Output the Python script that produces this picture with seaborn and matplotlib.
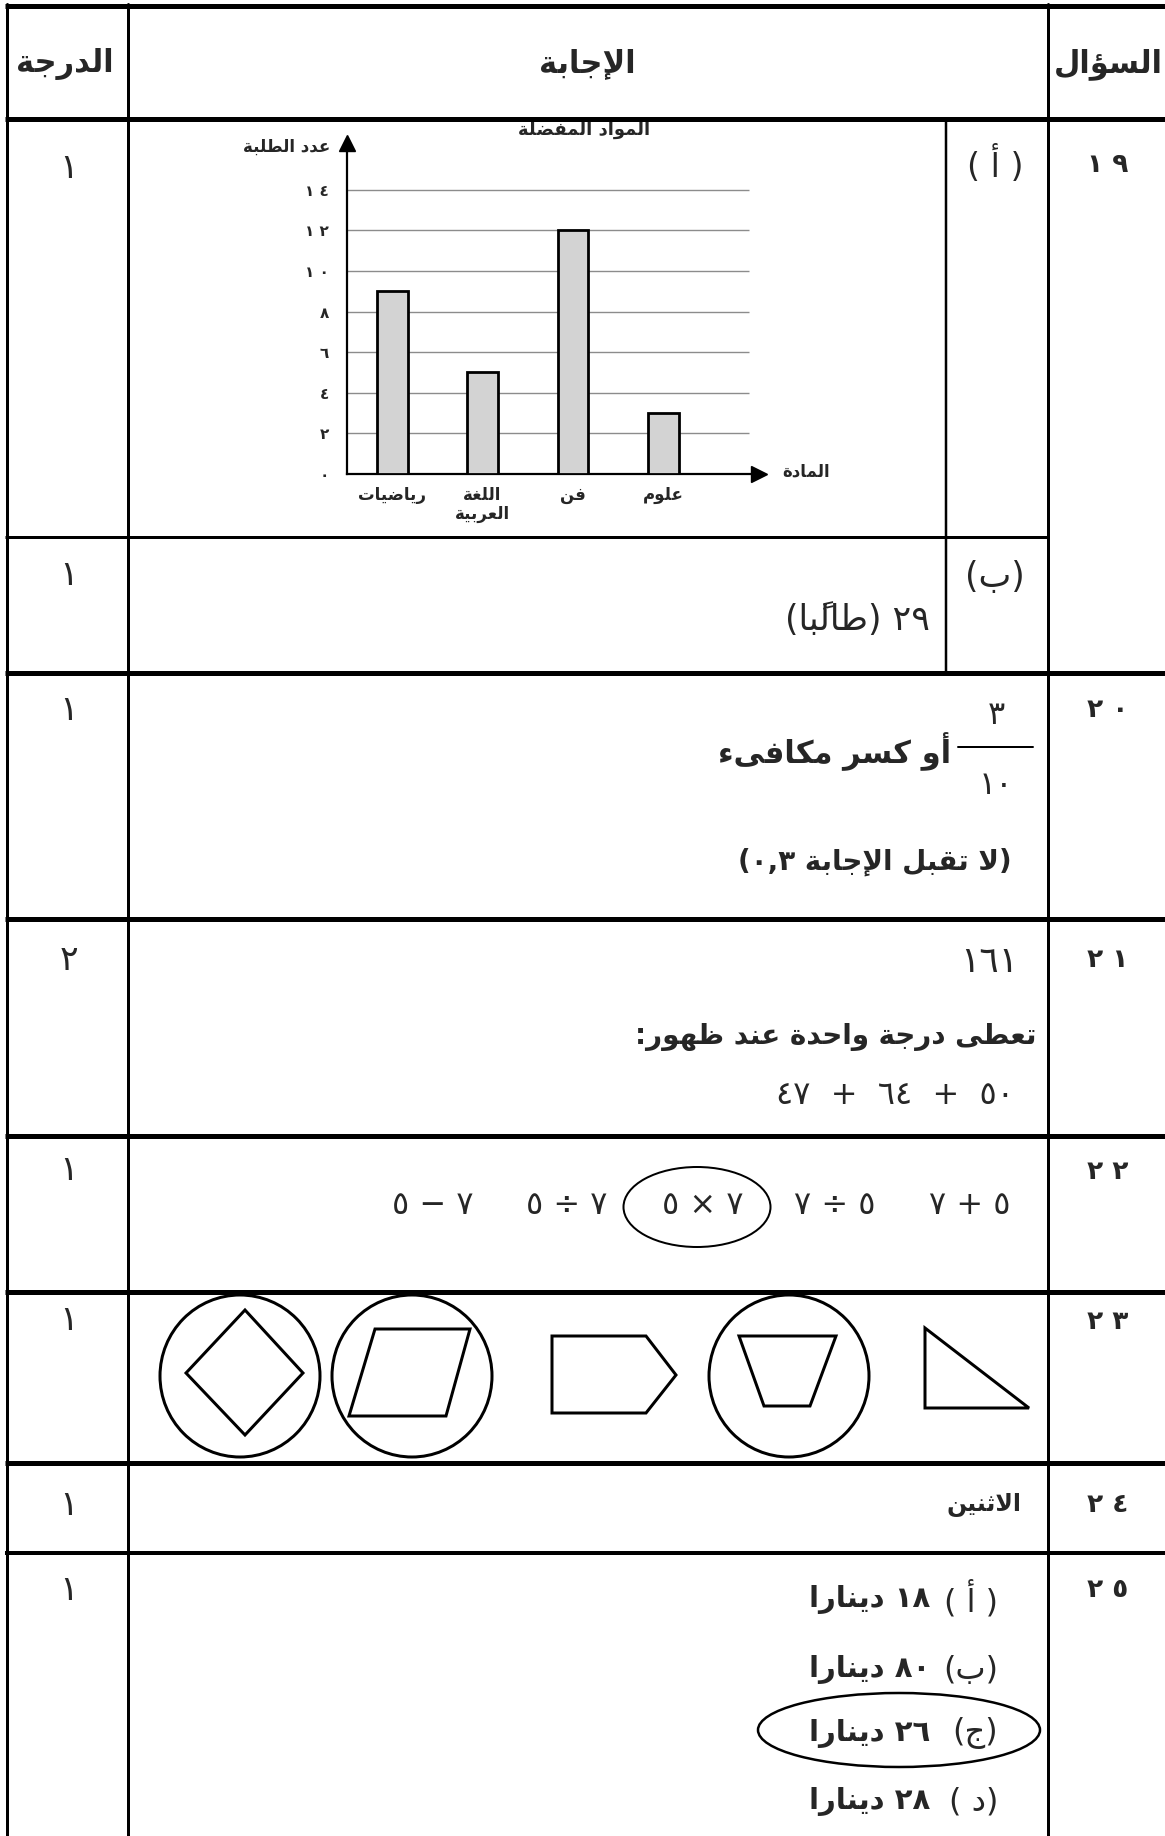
import matplotlib
matplotlib.use("Agg")
import matplotlib.pyplot as plt
from matplotlib.patches import Ellipse, Polygon
import seaborn as sns

# ---- data ----
subjects = ["رياضيات", "اللغة\nالعربية", "فن", "علوم"]
students = [9, 5, 12, 3]
y_ticks = [0, 2, 4, 6, 8, 10, 12, 14]
chart_title = "المواد المفضلة"
y_title = "عدد الطلبة"
x_title = "المادة"

header = ["الدرجة", "الإجابة", "السؤال"]
question_nums = [19, 20, 21, 22, 23, 24, 25]
marks = [1, 1, 1, 2, 1, 1, 1, 1]          # 19a, 19b, 20 ... 25

answer_19b = "٢٩ (طالبًا)"
frac_num, frac_den = 3, 10
answer_20 = "أو كسر مكافىء"
note_20 = "(لا تقبل الإجابة ٠,٣)"
answer_21 = 161
note_21 = "تعطى درجة واحدة عند ظهور:"
sum_21 = [50, 64, 47]
exprs_22 = ["٥ + ٧", "٥ ÷ ٧", "٧ × ٥", "٧ ÷ ٥", "٧ − ٥"]   # read right to left
pick_22 = 2
pick_23 = [True, True, False, True, False]                 # left to right
answer_24 = "الاثنين"
option_labels = ["( أ )", "(ب)", "(ج)", "(د )"]
option_values = [18, 80, 26, 28]
option_unit = "دينارا"
pick_25 = 2

# ---- minimal arabic shaping + rtl ordering (mpl has no bidi) ----
FORMS = {"ء": (0xFE80, 1), "آ": (0xFE81, 2), "أ": (0xFE83, 2), "ؤ": (0xFE85, 2),
         "إ": (0xFE87, 2), "ئ": (0xFE89, 4), "ا": (0xFE8D, 2), "ب": (0xFE8F, 4),
         "ة": (0xFE93, 2), "ت": (0xFE95, 4), "ث": (0xFE99, 4), "ج": (0xFE9D, 4),
         "ح": (0xFEA1, 4), "خ": (0xFEA5, 4), "د": (0xFEA9, 2), "ذ": (0xFEAB, 2),
         "ر": (0xFEAD, 2), "ز": (0xFEAF, 2), "س": (0xFEB1, 4), "ش": (0xFEB5, 4),
         "ص": (0xFEB9, 4), "ض": (0xFEBD, 4), "ط": (0xFEC1, 4), "ظ": (0xFEC5, 4),
         "ع": (0xFEC9, 4), "غ": (0xFECD, 4), "ف": (0xFED1, 4), "ق": (0xFED5, 4),
         "ك": (0xFED9, 4), "ل": (0xFEDD, 4), "م": (0xFEE1, 4), "ن": (0xFEE5, 4),
         "ه": (0xFEE9, 4), "و": (0xFEED, 2), "ى": (0xFEEF, 2), "ي": (0xFEF1, 4)}
LAM_ALEF = {"آ": 0xFEF5, "أ": 0xFEF7, "إ": 0xFEF9, "ا": 0xFEFB}
MARKS = "\u064B\u064C\u064D\u064E\u064F\u0650\u0651\u0652"
DIGITS = "0123456789٠١٢٣٤٥٦٧٨٩"
MIRROR = {"(": ")", ")": "("}
AR = str.maketrans("0123456789", "٠١٢٣٤٥٦٧٨٩")


def ar_num(n):
    return str(n).translate(AR)


def shape_units(text):
    units = []
    i = 0
    while i < len(text):
        c = text[i]
        if c == "ل" and i + 1 < len(text) and text[i + 1] in LAM_ALEF:
            units.append(["LA" + text[i + 1], ""])
            i += 2
            continue
        if c in MARKS and units:
            units[-1][1] += c
        else:
            units.append([c, ""])
        i += 1
    out = []
    for k, (u, m) in enumerate(units):
        if u.startswith("LA"):
            base, n = LAM_ALEF[u[2]], 2
        elif u in FORMS:
            base, n = FORMS[u]
        else:
            out.append(u + m)
            continue
        prev = units[k - 1][0] if k > 0 else ""
        nxt = units[k + 1][0] if k + 1 < len(units) else ""
        jp = prev in FORMS and FORMS[prev][1] == 4
        jn = n == 4 and (nxt in FORMS or nxt.startswith("LA"))
        if n == 1:
            idx = 0
        elif jp and jn:
            idx = 3
        elif jp:
            idx = 1
        elif jn:
            idx = 2
        else:
            idx = 0
        out.append(chr(base + idx) + m)
    return out


def rtl(text):
    lines = []
    for line in text.split("\n"):
        toks = shape_units(line)
        runs = []
        for j, t in enumerate(toks):
            is_d = t in DIGITS
            sep = t == "," and runs and runs[-1][0] and j + 1 < len(toks) and toks[j + 1] in DIGITS
            if (is_d or sep) and runs and runs[-1][0]:
                runs[-1][1] += t
            else:
                runs.append([is_d, t])
        lines.append("".join(r[1] if r[0] else MIRROR.get(r[1], r[1]) for r in runs[::-1]))
    return "\n".join(lines)


# ---- figure ----
sns.set_style("white")
plt.rcParams["font.family"] = ["DejaVu Sans"]
W, H = 1165, 1836
fig = plt.figure(figsize=(W / 100, H / 100), dpi=100)

base = fig.add_axes([0, 0, 1, 1])
base.set_xlim(0, W)
base.set_ylim(H, 0)
base.axis("off")
base.set_zorder(3)
base.patch.set_alpha(0)

PX = 0.72  # px -> pt
X_MARK, X_ANS, X_Q = 69, 587, 1108

# table rules
for y, lw, x1 in [(6, 5, W), (119, 5, W), (537, 3, 1048), (673, 5, W), (919, 5, W),
                  (1136, 5, W), (1292, 5, W), (1463, 5, W), (1553, 4, W)]:
    base.plot([5, x1], [y, y], color="black", lw=lw * PX, solid_capstyle="butt")
for x in [7, 128, 1048]:
    base.plot([x, x], [4, H], color="black", lw=3 * PX)
base.plot([946, 946], [119, 673], color="black", lw=2.5 * PX)

# header
for txt, x in zip(header, [X_MARK - 4, X_ANS, X_Q]):
    base.text(x, 64, rtl(txt), ha="center", va="center", fontsize=22, fontweight="bold")

# marks column
for m, y in zip(marks, [168, 575, 710, 960, 1170, 1320, 1505, 1590]):
    base.text(X_MARK, y, ar_num(m), ha="center", va="center", fontsize=25)

# question numbers
for q, y in zip(question_nums, [165, 710, 960, 1172, 1322, 1505, 1590]):
    base.text(X_Q, y, " ".join(ar_num(q)), ha="center", va="center", fontsize=19,
              fontweight="bold")

# 19 (a) chart
base.text(995, 165, rtl("( أ )"), ha="center", va="center", fontsize=24)
ax = fig.add_axes([347 / W, 1 - 474 / H, 412 / W, 331 / H])
ax.set_zorder(1)
sns.barplot(x=list(range(len(subjects))), y=students, ax=ax, width=0.34, color="#d3d3d3",
            saturation=1, edgecolor="black", linewidth=2, zorder=3)
ax.set_xlim(-0.5, 4.06)
ax.set_ylim(0, 16.3)
ax.hlines(y_ticks[1:], -0.5, 3.95, color="#8c8c8c", lw=1, zorder=1)
for s in ["top", "right"]:
    ax.spines[s].set_visible(False)
for s in ["left", "bottom"]:
    ax.spines[s].set_color("black")
    ax.spines[s].set_linewidth(1.6)
ax.set_yticks(y_ticks)
ax.set_yticklabels([" ".join(ar_num(v)) for v in y_ticks], fontsize=11, fontweight="bold")
ax.set_xticks(range(len(subjects)))
ax.set_xticklabels([rtl(s) for s in subjects], fontsize=12, fontweight="bold", linespacing=1.0)
ax.set_xticks([-0.5, 0.5, 1.5, 2.5, 3.5], minor=True)
ax.tick_params(axis="x", which="major", length=0, pad=9)
ax.tick_params(axis="x", which="minor", length=6, width=1.5, direction="out", color="black")
ax.tick_params(axis="y", length=5, width=1.2, direction="out", color="black", pad=8)
ax.set_xlabel("")
ax.set_ylabel("")
ax.plot(1, 0, ">k", ms=11, transform=ax.get_yaxis_transform(), clip_on=False)
ax.plot(-0.5, 1, "^k", ms=11, transform=ax.get_xaxis_transform(), clip_on=False)
ax.text(-0.68, 16.1, rtl(y_title), ha="right", va="center", fontsize=12, fontweight="bold")
ax.text(4.58, 0.1, rtl(x_title), ha="center", va="center", fontsize=12, fontweight="bold")
ax.text(2.12, 16.95, rtl(chart_title), ha="center", va="center", fontsize=13,
        fontweight="bold", clip_on=False)

# 19 (b)
base.text(995, 577, rtl("(ب)"), ha="center", va="center", fontsize=25)
base.text(930, 620, rtl(answer_19b), ha="right", va="center", fontsize=25)

# 20
base.text(996, 716, ar_num(frac_num), ha="center", va="center", fontsize=23)
base.plot([958, 1033], [747, 747], color="black", lw=2 * PX)
base.text(996, 786, ar_num(frac_den), ha="center", va="center", fontsize=23)
base.text(951, 752, rtl(answer_20), ha="right", va="center", fontsize=22, fontweight="bold")
base.text(1012, 862, rtl(note_20), ha="right", va="center", fontsize=20, fontweight="bold")

# 21
base.text(1018, 962, ar_num(answer_21), ha="right", va="center", fontsize=26)
base.text(1036, 1037, rtl(note_21), ha="right", va="center", fontsize=20, fontweight="bold")
base.text(1014, 1095, rtl("  +  ".join(ar_num(v) for v in sum_21)), ha="right", va="center",
          fontsize=23)

# 22
for k, (e, x) in enumerate(zip(exprs_22, [970, 835, 703, 567, 433])):
    base.text(x, 1205, rtl(e), ha="center", va="center", fontsize=23)
    if k == pick_22:
        base.add_patch(Ellipse((697, 1207), 147, 80, fill=False, lw=2 * PX, ec="black"))

# 23 shapes (left to right)
shapes = [
    [(245, 1310), (303, 1373), (245, 1435), (186, 1373)],
    [(375, 1329), (470, 1329), (446, 1416), (349, 1416)],
    [(552, 1336), (646, 1336), (676, 1375), (646, 1413), (552, 1413)],
    [(739, 1336), (836, 1336), (810, 1406), (764, 1406)],
    [(925, 1328), (925, 1408), (1029, 1408)],
]
ring_x = [240, 412, None, 789, None]
for pts, picked, cx in zip(shapes, pick_23, ring_x):
    base.add_patch(Polygon(pts, closed=True, fill=False, lw=3 * PX, ec="black", joinstyle="miter"))
    if picked:
        base.add_patch(Ellipse((cx, 1376), 160, 162, fill=False, lw=3 * PX, ec="black"))

# 24
base.text(1022, 1505, rtl(answer_24), ha="right", va="center", fontsize=17, fontweight="bold")

# 25
for k, (lab, val, y) in enumerate(zip(option_labels, option_values, [1600, 1670, 1733, 1802])):
    base.text(998, y, rtl(lab), ha="right", va="center", fontsize=23)
    base.text(930, y, rtl(ar_num(val) + " " + option_unit), ha="right", va="center",
              fontsize=21, fontweight="bold")
    if k == pick_25:
        base.add_patch(Ellipse((899, 1730), 282, 74, fill=False, lw=2.5 * PX, ec="black"))

fig.savefig("out.png", dpi=100)
